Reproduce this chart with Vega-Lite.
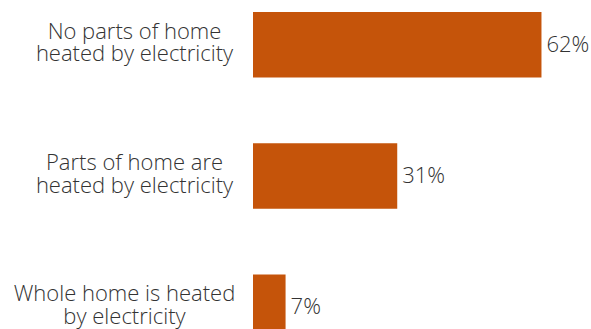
{
  "$schema": "https://vega.github.io/schema/vega-lite/v6.json",
  "width": 335,
  "height": 352,
  "autosize": {"type": "none"},
  "padding": {"left": 253, "top": 0, "right": 3, "bottom": 0},
  "background": "white",
  "config": {"view": {"stroke": null}, "font": "Open Sans"},
  "data": {"values": [
    {"category": "No parts of home|heated by electricity", "value": 62, "label": "62%"},
    {"category": "Parts of home are|heated by electricity", "value": 31, "label": "31%"},
    {"category": "Whole home is heated|by electricity", "value": 7, "label": "7%"}
  ]},
  "encoding": {
    "y": {"field": "category", "type": "nominal", "sort": null,
      "scale": {"paddingInner": 0.5, "paddingOuter": 0.0916},
      "axis": {"title": null, "domain": false, "ticks": false,
        "labelPadding": {"condition": {"test": "indexof(datum.value, 'Whole') == 0", "value": 129}, "value": 119},
        "labelAlign": "center", "labelOffset": -13,
        "labelExpr": "split(datum.label, '|')", "labelFontSize": 22, "labelFont": "Open Sans",
        "labelFontWeight": 300, "labelColor": "#333333", "labelLineHeight": 22.5, "labelLimit": 300}},
    "x": {"field": "value", "type": "quantitative", "scale": {"domain": [0, 72]}, "axis": null}
  },
  "layer": [
    {"mark": {"type": "bar", "color": "#C5540A"}},
    {"mark": {"type": "text", "align": "left", "baseline": "middle", "dx": 5, "fontSize": 22, "font": "Open Sans", "fontWeight": 300, "color": "#333333"},
     "encoding": {"text": {"field": "label"}}}
  ]
}
